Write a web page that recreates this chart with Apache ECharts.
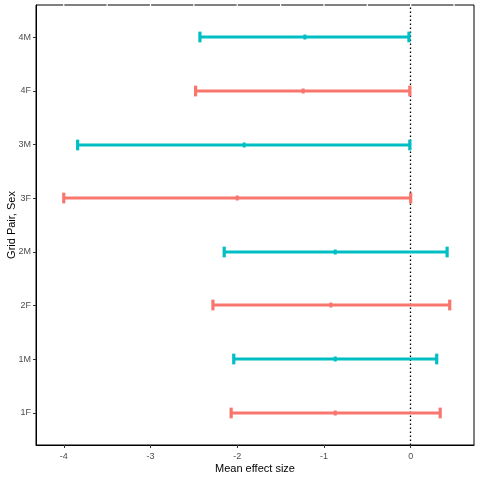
<!DOCTYPE html>
<html>
<head>
<meta charset="utf-8">
<script src="https://cdn.jsdelivr.net/npm/echarts@6/dist/echarts.min.js"></script>
<style>
  html, body { margin: 0; padding: 0; background: #fff; }
  #chart { width: 480px; height: 480px; }
</style>
</head>
<body>
<div id="chart"></div>
<script>
// grid pair + sex, bottom to top
const categories = ['1F', '1M', '2F', '2M', '3F', '3M', '4F', '4M'];
const lower    = [-2.07, -2.04, -2.28, -2.15, -4.00, -3.84, -2.48, -2.43];
const estimate = [-0.87, -0.87, -0.92, -0.87, -2.00, -1.92, -1.24, -1.22];
const upper    = [ 0.34,  0.30,  0.45,  0.42,  0.00, -0.01, -0.01, -0.02];
const xTicks = [-4, -3, -2, -1, 0];
const yTicks = [1, 2, 3, 4, 5, 6, 7, 8];
const gridBreaks = [-4, -3.5, -3, -2.5, -2, -1.5, -1, -0.5, 0, 0.5];

const colF = '#F8766D';
const colM = '#00BFC4';
const yMin = 0.4, yMax = 8.6;

function rowsFor(sex) {
  const out = [];
  categories.forEach((c, i) => {
    if (c.slice(-1) === sex) out.push([i + 1, lower[i], estimate[i], upper[i]]);
  });
  return out;
}

function renderBar(params, api) {
  const yv = api.value(0);
  const lo = api.coord([api.value(1), yv]);
  const mid = api.coord([api.value(2), yv]);
  const hi = api.coord([api.value(3), yv]);
  const cap = api.size([0, 0.2])[1] / 2;
  const color = api.visual('color');
  const st = { stroke: color, lineWidth: 3.2 };
  const y0 = Math.round(lo[1]);
  return {
    type: 'group',
    children: [
      { type: 'line', shape: { x1: lo[0], y1: y0, x2: hi[0], y2: y0 }, style: st },
      { type: 'line', shape: { x1: lo[0], y1: y0 - cap, x2: lo[0], y2: y0 + cap }, style: st },
      { type: 'line', shape: { x1: hi[0], y1: y0 - cap, x2: hi[0], y2: y0 + cap }, style: st },
      { type: 'rect', shape: { x: mid[0] - 1.5, y: y0 - 2.5, width: 3, height: 5 }, style: { fill: color } }
    ]
  };
}

// white gridlines only show where they cross the top border
function renderBreak(params, api) {
  const p = api.coord([api.value(0), yMax]);
  return {
    type: 'line',
    shape: { x1: p[0], y1: p[1] - 1, x2: p[0], y2: p[1] + 1 },
    style: { stroke: '#fff', lineWidth: 1.2 }
  };
}

const chart = echarts.init(document.getElementById('chart'));
const option = {
  animation: false,
  backgroundColor: '#fff',
  textStyle: { fontFamily: 'Liberation Sans' },
  grid: {
    left: 36, right: 6, top: 5, bottom: 35,
    outerBoundsMode: 'none',
    containLabel: false,
    show: true, borderColor: '#000', borderWidth: 1, backgroundColor: '#fff'
  },
  xAxis: {
    type: 'value',
    min: -4.32,
    max: 0.73,
    name: 'Mean effect size',
    nameLocation: 'middle',
    nameGap: 18,
    nameMoveOverlap: false,
    nameTextStyle: { color: '#000', fontSize: 11 },
    axisLine: { show: true, onZero: false, lineStyle: { color: '#000', width: 1 } },
    axisTick: { show: true, length: 3, customValues: xTicks, lineStyle: { color: '#333' } },
    axisLabel: { customValues: xTicks, color: '#4D4D4D', fontSize: 9, margin: 7 },
    splitLine: { show: false }
  },
  yAxis: {
    type: 'value',
    min: yMin,
    max: yMax,
    name: 'Grid Pair, Sex',
    nameLocation: 'middle',
    nameRotate: 90,
    nameGap: 19,
    nameMoveOverlap: false,
    nameTextStyle: { color: '#000', fontSize: 11 },
    axisLine: { show: true, onZero: false, lineStyle: { color: '#000', width: 1 } },
    axisTick: { show: true, length: 3, customValues: yTicks, lineStyle: { color: '#333' } },
    axisLabel: {
      customValues: yTicks,
      formatter: v => categories[Math.round(v) - 1],
      color: '#4D4D4D', fontSize: 9, margin: 5
    },
    splitLine: { show: false }
  },
  series: [
    {
      type: 'custom',
      name: 'F',
      color: colF,
      renderItem: renderBar,
      encode: { x: [1, 2, 3], y: 0 },
      data: rowsFor('F'),
      z: 3,
      markLine: {
        silent: true,
        symbol: 'none',
        label: { show: false },
        lineStyle: { color: '#000', width: 1.3, type: [1.5, 2.5] },
        data: [{ xAxis: 0 }],
        z: 2
      }
    },
    {
      type: 'custom',
      name: 'M',
      color: colM,
      renderItem: renderBar,
      encode: { x: [1, 2, 3], y: 0 },
      data: rowsFor('M'),
      z: 3
    },
    {
      type: 'custom',
      name: 'breaks',
      renderItem: renderBreak,
      encode: { x: 0 },
      data: gridBreaks.map(v => [v]),
      clip: false,
      z: 10,
      silent: true
    }
  ]
};
chart.setOption(option);
</script>
</body>
</html>
